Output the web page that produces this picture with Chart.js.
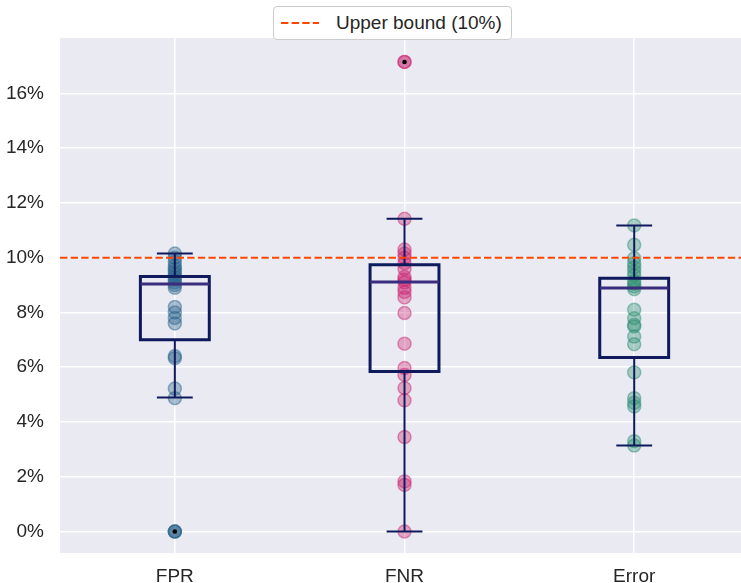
<!DOCTYPE html>
<html>
<head>
<meta charset="utf-8">
<script src="https://cdn.jsdelivr.net/npm/chart.js@4"></script>
<style>
  body { margin: 0; background: #fff; }
  #wrap { position: relative; width: 741px; height: 583px; }
  #legend {
    position: absolute; left: 273px; top: 6px; width: 239px; height: 34px;
    box-sizing: border-box; background: #fff; border: 1px solid #cccccc; border-radius: 4px;
    font-family: "Liberation Sans", Arial, sans-serif; font-size: 19px; color: #262626;
    display: flex; align-items: center;
  }
  #legend svg { flex: none; }
</style>
</head>
<body>
<div id="wrap">
  <canvas id="boxChart" width="741" height="583"></canvas>
  <div id="legend">
    <svg width="62" height="20"><line x1="7" y1="10" x2="45" y2="10" stroke="#ff4500" stroke-width="2" stroke-dasharray="7.4 3.2"/></svg>
    <span>Upper bound (10%)</span>
  </div>
</div>
<script>
// kategori dan tick
var categories = ["FPR", "FNR", "Error"];
var positions = [1, 2, 3];
var yTickValues = [0, 2, 4, 6, 8, 10, 12, 14, 16];
var upperBound = 10;

// nilai tiap titik (%)
var fprValues = [0, 0, 0, 4.87, 5.22, 6.33, 6.41, 7.6, 7.8, 8.0, 8.2, 8.9, 9.0, 9.1, 9.2, 9.3, 9.4, 9.5, 9.6, 9.7, 9.85, 10.0, 10.15];
var fnrValues = [0, 1.7, 1.83, 3.45, 4.79, 5.24, 5.72, 5.97, 6.86, 7.98, 8.55, 8.75, 8.9, 9.1, 9.2, 9.3, 9.6, 9.8, 10.0, 10.15, 10.3, 11.42, 17.15, 17.15];
var errorValues = [3.14, 3.3, 4.57, 4.7, 4.87, 5.81, 6.84, 7.12, 7.49, 7.55, 7.79, 8.1, 8.85, 8.95, 9.05, 9.15, 9.35, 9.5, 9.65, 9.8, 9.98, 10.47, 11.18];

// statistik boxplot
var q1 = [7.00, 5.84, 6.36];
var median = [9.04, 9.11, 8.89];
var q3 = [9.31, 9.74, 9.25];
var whiskerLow = [4.89, 0, 3.14];
var whiskerHigh = [10.15, 11.42, 11.18];
var fliers = [[0], [17.15], []];

var allValues = [fprValues, fnrValues, errorValues];
var pointColors = ["35, 95, 135", "200, 32, 110", "40, 140, 110"];

var boxHalf = 0.15;
var capHalf = 0.078;
var gap = { x: null, y: null };

// susun path kotak, median, whisker
var boxPath = [], medianPath = [], whiskerPath = [], flierPoints = [];
positions.forEach(function (p, i) {
  boxPath.push({ x: p - boxHalf, y: q1[i] }, { x: p + boxHalf, y: q1[i] }, { x: p + boxHalf, y: q3[i] },
    { x: p - boxHalf, y: q3[i] }, { x: p - boxHalf, y: q1[i] }, { x: p + boxHalf, y: q1[i] }, gap);
  medianPath.push({ x: p - boxHalf, y: median[i] }, { x: p + boxHalf, y: median[i] }, gap);
  whiskerPath.push({ x: p, y: q1[i] }, { x: p, y: whiskerLow[i] }, gap,
    { x: p - capHalf, y: whiskerLow[i] }, { x: p + capHalf, y: whiskerLow[i] }, gap,
    { x: p, y: q3[i] }, { x: p, y: whiskerHigh[i] }, gap,
    { x: p - capHalf, y: whiskerHigh[i] }, { x: p + capHalf, y: whiskerHigh[i] }, gap);
  fliers[i].forEach(function (v) { flierPoints.push({ x: p, y: v }); });
});

var datasets = [];
allValues.forEach(function (vals, i) {
  datasets.push({
    label: categories[i],
    data: vals.map(function (v) { return { x: positions[i], y: v }; }),
    pointRadius: 6.5,
    backgroundColor: "rgba(" + pointColors[i] + ", 0.35)",
    borderColor: "rgba(" + pointColors[i] + ", 0.45)",
    borderWidth: 1.5,
    order: 5,
  });
});

var lineStyle = { showLine: true, pointRadius: 0, spanGaps: false, borderJoinStyle: "miter", borderCapStyle: "butt" };
datasets.push(Object.assign({ label: "box", data: boxPath, borderColor: "#0e1a5c", borderWidth: 3, order: 2 }, lineStyle));
datasets.push(Object.assign({ label: "whisker", data: whiskerPath, borderColor: "#0e1a5c", borderWidth: 2, order: 3 }, lineStyle));
datasets.push(Object.assign({ label: "median", data: medianPath, borderColor: "#3a2c7e", borderWidth: 3, order: 1 }, lineStyle));
datasets.push({ label: "flier", data: flierPoints, pointRadius: 2.3, backgroundColor: "#000", borderWidth: 0, order: 0 });
datasets.push(Object.assign({
  label: "Upper bound (10%)",
  data: [{ x: 0.5, y: upperBound }, { x: 3.465, y: upperBound }],
  borderColor: "#ff4500", borderWidth: 2, borderDash: [7.4, 3.2], order: 0,
}, lineStyle));

// latar belakang area plot
var plotBg = {
  id: "plotBg",
  beforeDraw: function (chart) {
    var a = chart.chartArea, c = chart.ctx;
    c.save();
    c.fillStyle = "#eaeaf2";
    c.fillRect(a.left, a.top, a.right - a.left, a.bottom - a.top);
    c.restore();
  },
};

Chart.defaults.font.family = '"Liberation Sans", Arial, sans-serif';
Chart.defaults.font.size = 19;
Chart.defaults.color = "#262626";

var chart = new Chart(document.getElementById("boxChart").getContext("2d"), {
  type: "scatter",
  data: { datasets: datasets },
  options: {
    responsive: false,
    animation: false,
    devicePixelRatio: 1,
    layout: { autoPadding: false, padding: { top: 38, left: 0, right: 0, bottom: 0 } },
    plugins: { legend: { display: false }, tooltip: { enabled: false } },
    scales: {
      x: {
        type: "linear",
        min: 0.5,
        max: 3.465,
        afterBuildTicks: function (s) { s.ticks = positions.map(function (p) { return { value: p }; }); },
        afterFit: function (s) { s.height = 30; s.paddingLeft = 0; s.paddingRight = 0; },
        ticks: { padding: 12, callback: function (v) { return categories[positions.indexOf(v)]; } },
        grid: { color: "#ffffff", lineWidth: 1.5, drawTicks: false },
        border: { display: false },
      },
      y: {
        min: -0.785,
        max: 18.025,
        afterBuildTicks: function (s) { s.ticks = yTickValues.map(function (v) { return { value: v }; }); },
        afterFit: function (s) { s.width = 60; s.paddingTop = 0; s.paddingBottom = 0; },
        ticks: { padding: 16, callback: function (v) { return v + "%"; } },
        grid: { color: "#ffffff", lineWidth: 1.5, drawTicks: false },
        border: { display: false },
      },
    },
  },
  plugins: [plotBg],
});
</script>
</body>
</html>
